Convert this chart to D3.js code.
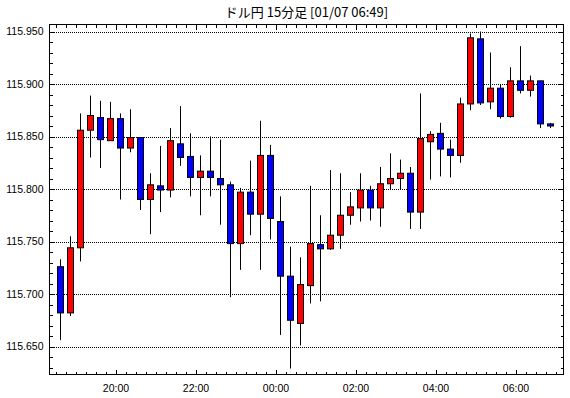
<!DOCTYPE html>
<html><head><meta charset="utf-8">
<script src="https://cdn.jsdelivr.net/npm/d3@7"></script>
<style>
html,body{margin:0;padding:0;background:#fff;}
svg{display:block;}
</style></head>
<body>
<svg id="c" width="570" height="398"></svg>
<script>
const title = "ドル円 15分足 [01/07 06:49]";
const times = ["18:30","18:45","19:00","19:15","19:30","19:45","20:00","20:15","20:30","20:45",
"21:00","21:15","21:30","21:45","22:00","22:15","22:30","22:45","23:00","23:15",
"23:30","23:45","00:00","00:15","00:30","00:45","01:00","01:15","01:30","01:45",
"02:00","02:15","02:30","02:45","03:00","03:15","03:30","03:45","04:00","04:15",
"04:30","04:45","05:00","05:15","05:30","05:45","06:00","06:15","06:30","06:45"];
const opens = [115.726,115.682,115.744,115.856,115.868,115.846,115.867,115.839,115.849,115.790,
115.803,115.799,115.843,115.831,115.811,115.817,115.810,115.804,115.748,115.797,
115.776,115.832,115.769,115.717,115.672,115.708,115.747,115.743,115.756,115.775,
115.782,115.799,115.782,115.805,115.810,115.815,115.778,115.845,115.853,115.838,
115.832,115.881,115.943,115.883,115.896,115.869,115.903,115.894,115.903,115.862];
const highs = [115.733,115.755,115.872,115.889,115.884,115.883,115.872,115.876,115.849,115.815,
115.841,115.858,115.879,115.853,115.832,115.850,115.847,115.807,115.801,115.827,
115.865,115.842,115.793,115.745,115.735,115.803,115.775,115.818,115.815,115.797,
115.815,115.803,115.821,115.834,115.828,115.821,115.891,115.855,115.863,115.847,
115.887,115.948,115.950,115.930,115.900,115.916,115.936,115.908,115.903,115.863];
const lows = [115.656,115.679,115.731,115.830,115.820,115.846,115.790,115.835,115.780,115.757,
115.778,115.792,115.822,115.793,115.775,115.793,115.766,115.697,115.723,115.756,
115.723,115.752,115.661,115.629,115.651,115.691,115.693,115.742,115.743,115.766,
115.769,115.770,115.764,115.800,115.800,115.762,115.762,115.809,115.812,115.811,
115.825,115.875,115.880,115.876,115.867,115.868,115.891,115.888,115.858,115.858];
const closes = [115.682,115.744,115.856,115.870,115.847,115.867,115.839,115.849,115.790,115.804,
115.799,115.846,115.830,115.811,115.817,115.811,115.804,115.748,115.797,115.776,
115.832,115.772,115.717,115.675,115.709,115.748,115.743,115.756,115.775,115.783,
115.799,115.782,115.805,115.810,115.815,115.778,115.848,115.852,115.838,115.832,
115.881,115.944,115.882,115.896,115.869,115.903,115.894,115.903,115.862,115.860];
const yTicks = [115.650,115.700,115.750,115.800,115.850,115.900,115.950];

const base = new Date(2025,0,6,18,0,0);
const tAt = m => new Date(base.getTime() + m*60000);
function candleTime(s){
  const [h,mm] = s.split(":").map(Number);
  let m = (h - 18)*60 + mm;
  if (h < 18) m += 24*60;
  return tAt(m + 7.5);
}
const data = times.map((s,i)=>({t:candleTime(s),o:opens[i],h:highs[i],l:lows[i],c:closes[i]}));

const L=49.5, R=563.5, T=24.5, B=374.5;
const x = d3.scaleTime().domain([tAt(21), tAt(792)]).range([L, R]);
const y = d3.scaleLinear().domain([115.65 - 28/1050, 115.95 + 7/1050]).range([B, T]);

const svg = d3.select("#c");
svg.append("rect").attr("width",570).attr("height",398).attr("fill","#fff");

// gridlines
svg.append("g").attr("transform",`translate(${L},0)`)
  .call(d3.axisLeft(y).tickValues(yTicks).tickSize(-(R-L)).tickFormat(""))
  .call(g=>{g.select(".domain").remove();
    g.selectAll("line").attr("stroke","#000").attr("stroke-dasharray","1,1").attr("shape-rendering","crispEdges");});

const minorX = d3.timeMinute.every(15).range(tAt(21), tAt(792));
const majorX = minorX.filter(d=>d.getMinutes()===0 && d.getHours()%2===0);
const minorY = d3.range(115.63,115.957,0.01).map(v=>+v.toFixed(3));

function styleAxis(g){
  g.select(".domain").remove();
  g.selectAll("line").attr("stroke","#000").attr("shape-rendering","crispEdges");
  g.selectAll("text").attr("font-family","Liberation Sans, Arial, sans-serif").attr("font-size","10.5px").attr("fill","#000");
}
// bottom
svg.append("g").attr("transform",`translate(0,${B})`)
  .call(d3.axisBottom(x).tickValues(minorX).tickSize(-3).tickFormat("")).call(styleAxis);
svg.append("g").attr("transform",`translate(0,${B})`)
  .call(d3.axisBottom(x).tickValues(majorX).tickSize(-5).tickPadding(10).tickFormat(d3.timeFormat("%H:%M"))).call(styleAxis);
// top
svg.append("g").attr("transform",`translate(0,${T})`)
  .call(d3.axisTop(x).tickValues(minorX).tickSize(-3).tickFormat("")).call(styleAxis);
svg.append("g").attr("transform",`translate(0,${T})`)
  .call(d3.axisTop(x).tickValues(majorX).tickSize(-5).tickFormat("")).call(styleAxis);
// left
svg.append("g").attr("transform",`translate(${L},0)`)
  .call(d3.axisLeft(y).tickValues(minorY).tickSize(-3).tickFormat("")).call(styleAxis);
svg.append("g").attr("transform",`translate(${L},0)`)
  .call(d3.axisLeft(y).tickValues(yTicks).tickSize(-5).tickPadding(6).tickFormat(d3.format(".3f"))).call(styleAxis);
// right
svg.append("g").attr("transform",`translate(${R},0)`)
  .call(d3.axisRight(y).tickValues(minorY).tickSize(-3).tickFormat("")).call(styleAxis);
svg.append("g").attr("transform",`translate(${R},0)`)
  .call(d3.axisRight(y).tickValues(yTicks).tickSize(-5).tickFormat("")).call(styleAxis);

// frame
svg.append("rect").attr("x",L).attr("y",T).attr("width",R-L).attr("height",B-T)
  .attr("fill","none").attr("stroke","#000").attr("stroke-width",1).attr("shape-rendering","crispEdges");

// candles
const cg = svg.append("g");
cg.selectAll("line.w").data(data).join("line").attr("class","w")
  .attr("x1",d=>Math.round(x(d.t)-0.5)+0.5).attr("x2",d=>Math.round(x(d.t)-0.5)+0.5)
  .attr("y1",d=>y(d.h)).attr("y2",d=>y(d.l)).attr("stroke","#000").attr("stroke-width",1);
cg.selectAll("rect.b").data(data).join("rect").attr("class","b")
  .attr("x",d=>Math.round(x(d.t)-0.5)+0.5-3)
  .attr("width",6)
  .attr("y",d=>y(Math.max(d.o,d.c)))
  .attr("height",d=>Math.max(1,Math.abs(y(d.o)-y(d.c))))
  .attr("fill",d=>d.c>=d.o?"#ff0000":"#0000ff")
  .attr("stroke","#000").attr("stroke-width",1);

// title
svg.append("text").attr("x",(L+R)/2).attr("y",17).attr("text-anchor","middle")
  .attr("font-family","Noto Sans CJK JP, sans-serif").attr("font-size","13px").attr("fill","#000")
  .text(title);
</script>
</body></html>
